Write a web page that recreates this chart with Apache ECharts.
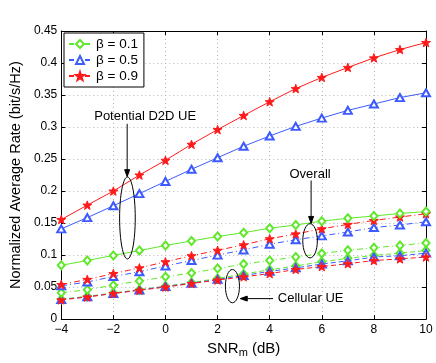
<!DOCTYPE html>
<html>
<head>
<meta charset="utf-8">
<script src="https://cdn.jsdelivr.net/npm/echarts@6/dist/echarts.min.js"></script>
<style>
  html, body { margin: 0; padding: 0; background: #fff; }
  #main { width: 436px; height: 363px; }
</style>
</head>
<body>
<div id="main"></div>
<script>
// SNR_m (dB)
const snr = [-4, -3, -2, -1, 0, 1, 2, 3, 4, 5, 6, 7, 8, 9, 10];

// potential D2D UE (solid)
const d2d01 = [0.084, 0.0915, 0.0995, 0.107, 0.115, 0.122, 0.129, 0.135, 0.142, 0.147, 0.153, 0.1575, 0.161, 0.165, 0.168];
const d2d05 = [0.141, 0.1585, 0.177, 0.196, 0.215, 0.234, 0.252, 0.270, 0.286, 0.301, 0.314, 0.326, 0.336, 0.346, 0.3535];
const d2d09 = [0.1555, 0.178, 0.200, 0.225, 0.248, 0.273, 0.296, 0.318, 0.3395, 0.360, 0.3775, 0.393, 0.408, 0.421, 0.432];

// overall (dash-dot)
const all01 = [0.041, 0.046, 0.053, 0.0595, 0.066, 0.072, 0.079, 0.086, 0.0915, 0.097, 0.1025, 0.1075, 0.1115, 0.115, 0.119];
const all05 = [0.052, 0.058, 0.0665, 0.074, 0.083, 0.0915, 0.100, 0.108, 0.117, 0.124, 0.130, 0.136, 0.143, 0.147, 0.152];
const all09 = [0.054, 0.062, 0.071, 0.080, 0.0895, 0.099, 0.1075, 0.116, 0.1255, 0.133, 0.141, 0.148, 0.154, 0.1595, 0.1645];

// cellular UE (dashed)
const cel01 = [0.031, 0.0355, 0.041, 0.046, 0.0515, 0.057, 0.0635, 0.0705, 0.077, 0.083, 0.0895, 0.095, 0.0995, 0.103, 0.107];
const cel05 = [0.0305, 0.035, 0.040, 0.0455, 0.051, 0.056, 0.062, 0.068, 0.0745, 0.080, 0.086, 0.091, 0.097, 0.099, 0.103];
const cel09 = [0.030, 0.0345, 0.040, 0.045, 0.050, 0.0555, 0.061, 0.066, 0.071, 0.0775, 0.082, 0.0865, 0.0915, 0.094, 0.097];

const betaNames = ['\u03b2 = 0.1', '\u03b2 = 0.5', '\u03b2 = 0.9'];

// annotations, in data units: [x, y]
const noteText = [[-0.78, 0.317], [5.55, 0.2255], [4.31, 0.032]];
const noteLabel = ['Potential D2D UE', 'Overall', 'Cellular UE'];
const noteEllipse = [[-1.46, 0.158, 0.30, 0.064], [5.55, 0.1223, 0.28, 0.0267], [2.57, 0.0515, 0.27, 0.026]];
const noteArrow = [[-1.47, 0.305, -1.47, 0.2225], [5.59, 0.2165, 5.59, 0.1494], [4.13, 0.032, 2.87, 0.032]];

const GREEN = '#5fe82a';
const BLUE = '#3c5aff';
const RED = '#ff1a1a';
const STAR = 'path://M0,-10L2.35,-3.24L9.51,-3.09L3.8,1.24L5.88,8.09L0,4.1L-5.88,8.09L-3.8,1.24L-9.51,-3.09L-2.35,-3.24Z';
const DASH = [5, 3];
const DASHDOT = [6, 3, 1, 3];
const FONT = 'Liberation Sans';

const styles = [
  { color: GREEN, symbol: 'emptyDiamond', size: [7, 8] },
  { color: BLUE, symbol: 'emptyTriangle', size: [8, 7] },
  { color: RED, symbol: STAR, size: 9 }
];

function mk(i, data, type) {
  const s = styles[i];
  return {
    name: betaNames[i],
    type: 'line',
    data: snr.map((x, k) => [x, data[k]]),
    symbol: s.symbol,
    symbolSize: s.size,
    symbolKeepAspect: true,
    showAllSymbol: true,
    color: s.color,
    itemStyle: { color: s.color, borderColor: s.color, borderWidth: 1 },
    lineStyle: { color: s.color, width: 1, type: type },
    emphasis: { disabled: true },
    animation: false
  };
}

const chart = echarts.init(document.getElementById('main'));

chart.setOption({
  animation: false,
  textStyle: { fontFamily: FONT },
  grid: { left: 61, right: 10, top: 31, bottom: 37 },
  legend: {
    data: betaNames,
    orient: 'vertical',
    left: 64,
    top: 33,
    itemWidth: 22,
    itemHeight: 10,
    itemGap: 2,
    padding: [4, 6, 4, 4],
    borderColor: '#000',
    borderWidth: 1,
    backgroundColor: '#fff',
    textStyle: { fontFamily: FONT, fontSize: 13.5, color: '#000' }
  },
  xAxis: [
    {
      type: 'value',
      min: -4,
      max: 10,
      interval: 2,
      name: '{a|SNR}{s|m}{a| (dB)}',
      nameLocation: 'middle',
      nameGap: 12,
      nameTextStyle: {
        verticalAlign: 'top',
        rich: {
          a: { fontFamily: FONT, fontSize: 15, color: '#000' },
          s: { fontFamily: FONT, fontSize: 11, color: '#000', verticalAlign: 'bottom', padding: [8, 0, 0, 0] }
        }
      },
      axisLine: { onZero: false, lineStyle: { color: '#000', width: 1 } },
      axisTick: { inside: true, length: 4, lineStyle: { color: '#000' } },
      axisLabel: {
        margin: 5,
        color: '#000',
        fontSize: 12,
        fontFamily: FONT,
        formatter: v => (v < 0 ? '\u2212' + Math.abs(v) : String(v))
      },
      splitLine: { show: true, lineStyle: { color: '#b5b5b5', type: [1, 3] } }
    },
    {
      type: 'value',
      position: 'top',
      min: -4,
      max: 10,
      interval: 2,
      axisLine: { show: true, onZero: false, lineStyle: { color: '#000', width: 1 } },
      axisTick: { show: true, inside: true, length: 4, lineStyle: { color: '#000' } },
      axisLabel: { show: false },
      splitLine: { show: false }
    }
  ],
  yAxis: [
    {
      type: 'value',
      min: 0,
      max: 0.45,
      interval: 0.05,
      name: 'Normalized Average Rate (bit/s/Hz)',
      nameLocation: 'middle',
      nameGap: 32,
      nameTextStyle: { fontFamily: FONT, fontSize: 14.5, color: '#000' },
      axisLine: { show: true, onZero: false, lineStyle: { color: '#000', width: 1 } },
      axisTick: { show: true, inside: true, length: 4, lineStyle: { color: '#000' } },
      axisLabel: { margin: 4, color: '#000', fontSize: 12, fontFamily: FONT },
      splitLine: { show: true, lineStyle: { color: '#b5b5b5', type: [1, 3] } }
    },
    {
      type: 'value',
      position: 'right',
      min: 0,
      max: 0.45,
      interval: 0.05,
      axisLine: { show: true, onZero: false, lineStyle: { color: '#000', width: 1 } },
      axisTick: { show: true, inside: true, length: 4, lineStyle: { color: '#000' } },
      axisLabel: { show: false },
      splitLine: { show: false }
    }
  ],
  series: [
    mk(0, cel01, DASH),
    mk(1, cel05, DASH),
    mk(2, cel09, DASH),
    mk(0, all01, DASHDOT),
    mk(1, all05, DASHDOT),
    mk(2, all09, DASHDOT),
    mk(0, d2d01, 'solid'),
    mk(1, d2d05, 'solid'),
    mk(2, d2d09, 'solid')
  ]
});

// annotations placed through the chart's own scales
function drawNotes() {
  const p = (x, y) => chart.convertToPixel({ seriesIndex: 0 }, [x, y]);
  const els = [];
  noteEllipse.forEach(e => {
    const c = p(e[0], e[1]);
    const r = p(e[0] + e[2], e[1] + e[3]);
    els.push({
      type: 'ellipse',
      shape: { cx: c[0], cy: c[1], rx: Math.abs(r[0] - c[0]), ry: Math.abs(r[1] - c[1]) },
      style: { fill: 'none', stroke: '#000', lineWidth: 1 },
      z: 100
    });
  });
  noteArrow.forEach(a => {
    const s = p(a[0], a[1]);
    const t = p(a[2], a[3]);
    const ang = Math.atan2(t[1] - s[1], t[0] - s[0]);
    const L = 7, W = 2.5;
    const bx = t[0] - L * Math.cos(ang), by = t[1] - L * Math.sin(ang);
    els.push({
      type: 'line',
      shape: { x1: s[0], y1: s[1], x2: bx, y2: by },
      style: { stroke: '#000', lineWidth: 1 },
      z: 100
    });
    els.push({
      type: 'polygon',
      shape: {
        points: [
          [t[0], t[1]],
          [bx - W * Math.sin(ang), by + W * Math.cos(ang)],
          [bx + W * Math.sin(ang), by - W * Math.cos(ang)]
        ]
      },
      style: { fill: '#000', stroke: '#000', lineWidth: 1 },
      z: 100
    });
  });
  noteText.forEach((n, i) => {
    const c = p(n[0], n[1]);
    els.push({
      type: 'text',
      x: c[0],
      y: c[1],
      style: {
        text: noteLabel[i],
        fontFamily: FONT,
        fontSize: 13,
        fill: '#000',
        align: i === 2 ? 'left' : 'center',
        verticalAlign: 'middle'
      },
      z: 100
    });
  });
  chart.setOption({ graphic: els });
}
drawNotes();
</script>
</body>
</html>
